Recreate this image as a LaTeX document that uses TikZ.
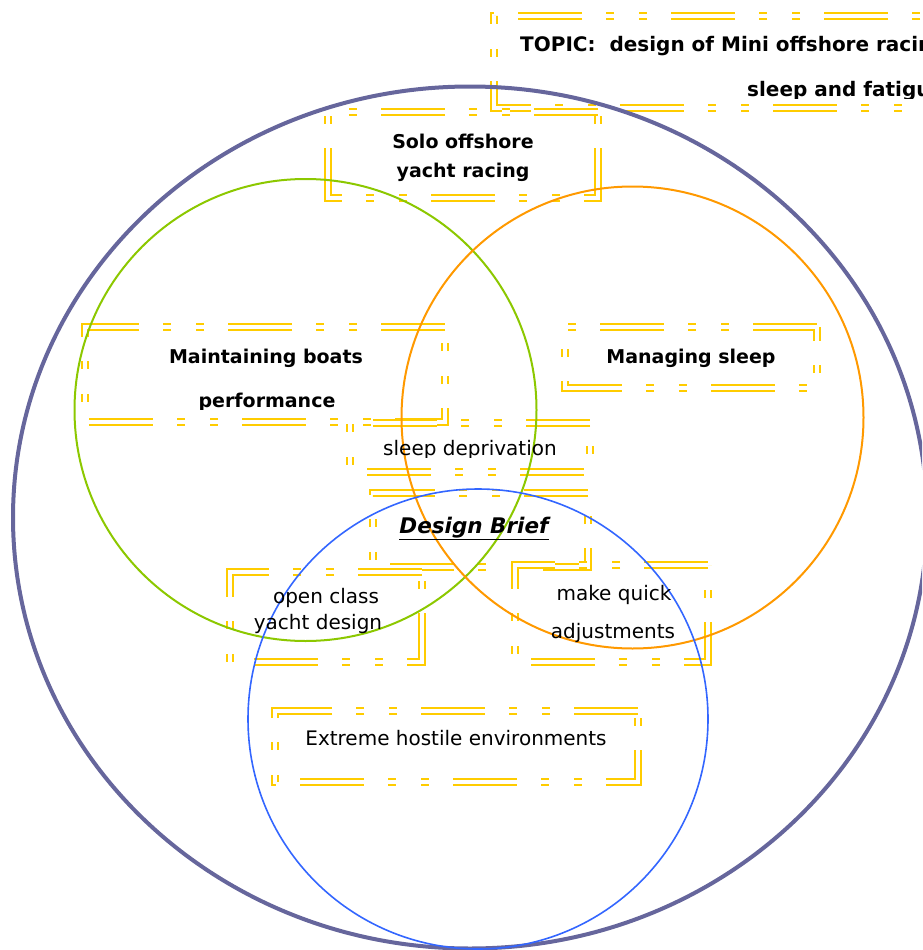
\documentclass[tikz,border=0pt]{standalone}
\usepackage{fontspec}
\setmainfont{DejaVu Sans}
\definecolor{topicgold}{HTML}{FFCC00}
\definecolor{outerpurple}{HTML}{66669C}
\definecolor{boatgreen}{HTML}{8CC800}
\definecolor{sleeporange}{HTML}{FF9900}
\definecolor{briefblue}{HTML}{3366FF}
\begin{document}
\begin{tikzpicture}[x=1pt,y=-1pt,
	box/.style={topicgold,line width=2.3pt,double=white,double distance=3.2pt,
		dash pattern=on 64pt off 24pt on 8pt off 25pt on 8pt off 24pt},
	bold/.style={font=\fontsize{19}{23}\selectfont\bfseries,inner sep=0pt,anchor=base},
	plain/.style={font=\fontsize{20}{24}\selectfont,inner sep=0pt,anchor=base}]
	%Page is 922 x 950, one unit = one pixel of the reference
	\useasboundingbox (0,0) rectangle (922,950);
	\clip (0,0) rectangle (922,950);

	%Circles: centres and radii
	\pgfmathsetmacro{\R}{231}
	\pgfmathsetmacro{\gx}{305.5}
	\pgfmathsetmacro{\gy}{410}
	\pgfmathsetmacro{\ox}{632.5}
	\pgfmathsetmacro{\oy}{417.5}
	\pgfmathsetmacro{\bx}{478}
	\pgfmathsetmacro{\by}{719}

	%Yellow text frames: left/top/right/bottom, drawn from the top right corner
	\foreach \xa/\ya/\xb/\yb in {494/16/1041/108, 328/112/598/198,
		85/327/445/422, 565/327/817/388, 350/423/590/472,
		373/493/588/567, 230/572/422/662, 515/565/708/662,
		275/711/638/782}
		\draw[box] (\xb,\ya) -- (\xa,\ya) -- (\xa,\yb) -- (\xb,\yb) -- cycle;

	%Outer circle and the three topic circles
	\draw[outerpurple,line width=4pt] (470,517.5) ellipse [x radius=457, y radius=431];
	\draw[boatgreen,line width=2pt] (\gx,\gy) circle [radius=\R];
	\draw[sleeporange,line width=2pt] (\ox,\oy) circle [radius=\R];
	\draw[briefblue,line width=1.6pt] (\bx,\by) circle [radius=230];

	%Texts
	\node[bold,font=\fontsize{20}{24}\selectfont\bfseries,anchor=base west] (topic) at (520,52) {TOPIC:\ \ design of Mini offshore racing};
	\begin{scope}
		\clip (495,60) rectangle (922,98);
		\node[bold,font=\fontsize{20}{24}\selectfont\bfseries,anchor=base west] (fatigue) at (747,96) {sleep and fatigue};
	\end{scope}

	\node[bold] (solo) at (463,148) {Solo offshore};
	\node[bold] (racing) at (463,177) {yacht racing};

	\node[bold] (maint) at (266,363) {Maintaining boats};
	\begin{scope}
		\clip (85,380) rectangle (445,409);
		\node[bold] (perf) at (267,407) {performance};
	\end{scope}

	\node[bold] (managing) at (691,363) {Managing sleep};

	\begin{scope}
		\clip (350,425) rectangle (590,457);
		\node[plain] (deprivation) at (470,455) {sleep deprivation};
	\end{scope}

	\node[bold,font=\fontsize{21.5}{25}\selectfont\bfseries] (brief) at (474,533) {\itshape\underline{Design Brief}};

	\node[plain] (openclass) at (326,603) {open class};
	\node[plain] (yachtdesign) at (318,629) {yacht design};

	\node[plain] (quick) at (614,600) {make quick};
	\node[plain] (adjust) at (613,638) {adjustments};

	\node[plain] (extreme) at (456,745) {Extreme hostile environments};

\end{tikzpicture}
\end{document}
